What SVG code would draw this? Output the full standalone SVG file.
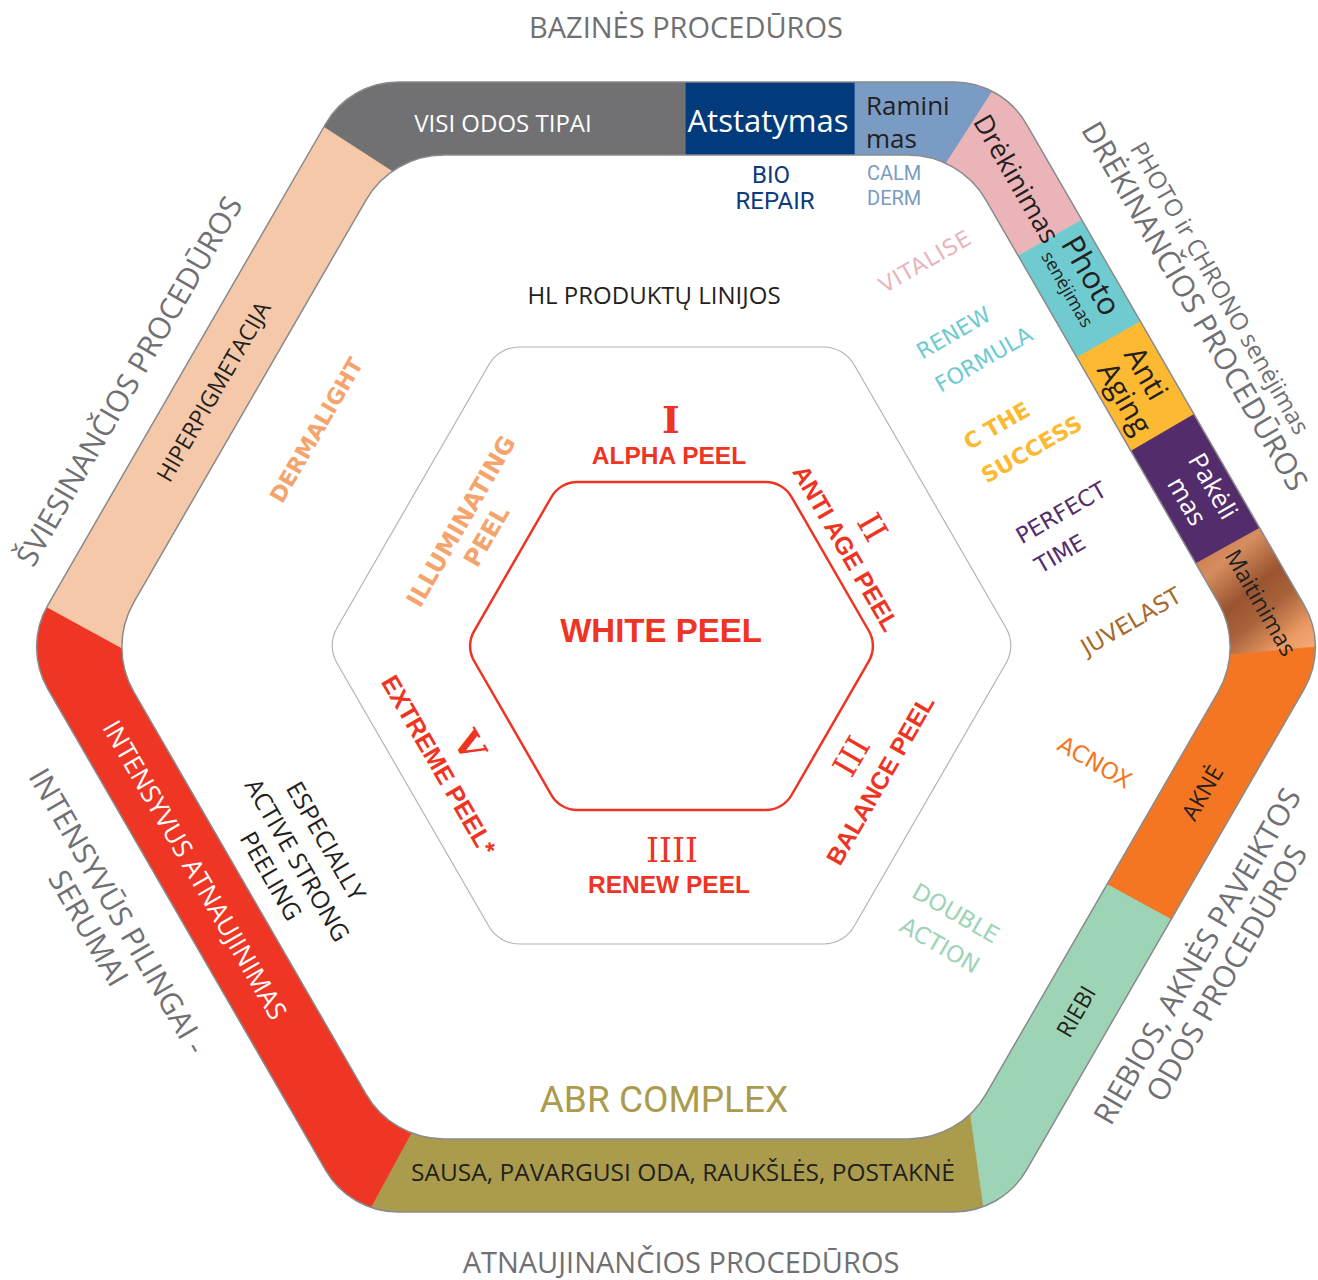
<svg xmlns="http://www.w3.org/2000/svg" width="1318" height="1280" viewBox="0 0 1318 1280">
<style>
.os{font-family:"Open Sans","Noto Sans",sans-serif}
.dv{font-family:"DejaVu Sans",sans-serif}
.lb{font-family:"Liberation Sans",Arial,sans-serif;font-weight:bold}
.rb{font-family:Roboto,"Liberation Sans",sans-serif}
.sr{font-family:"DejaVu Serif","Liberation Serif",serif}
.m{text-anchor:middle}
.gr{fill:#707073}
.dk{fill:#231f20}
.wh{fill:#ffffff}
.rd{fill:#ee3524}
.seg{stroke-width:0.8}
</style>
<defs>
<clipPath id="ringClip">
<path clip-rule="evenodd" fill-rule="evenodd" d="M398.3,82 L953.7,82 A84,84 0 0 1 1026.45,124 L1304.15,605 A84,84 0 0 1 1304.15,689 L1026.45,1170 A84,84 0 0 1 953.7,1212 L398.3,1212 A84,84 0 0 1 325.55,1170 L47.85,689 A84,84 0 0 1 47.85,605 L325.55,124 A84,84 0 0 1 398.3,82 Z M444,155 L908,155 A90,90 0 0 1 986,200 L1218.1,602 A90,90 0 0 1 1218.1,692 L986,1094 A90,90 0 0 1 908,1139 L444,1139 A90,90 0 0 1 366,1094 L133.9,692 A90,90 0 0 1 133.9,602 L366,200 A90,90 0 0 1 444,155 Z"/>
</clipPath>
<linearGradient id="copper" gradientUnits="userSpaceOnUse" x1="1195" y1="545" x2="1295" y2="665">
<stop offset="0" stop-color="#c9794a"/>
<stop offset="0.2" stop-color="#d68d5f"/>
<stop offset="0.45" stop-color="#9a5430"/>
<stop offset="0.62" stop-color="#a8633b"/>
<stop offset="0.85" stop-color="#eb9a63"/>
<stop offset="1" stop-color="#f5ab78"/>
</linearGradient>
</defs>
<rect width="1318" height="1280" fill="#ffffff"/>

<g id="ring" clip-path="url(#ringClip)">
<g id="seg-visi"><polygon class="seg" fill="#717073" stroke="#717073" points="676,647 427,194 257,84 252,-88 686,10 686,190"/></g>
<g id="seg-atstatymas"><polygon class="seg" fill="#023b7c" stroke="#023b7c" points="676,647 686,190 686,10 855,10 855,190"/></g>
<g id="seg-raminimas"><polygon class="seg" fill="#7a9bc3" stroke="#7a9bc3" points="676,647 855,190 855,10 1037,22 924.5,197"/></g>
<g id="seg-drekinimas"><polygon class="seg" fill="#ebb4b9" stroke="#ebb4b9" points="676,647 924.5,197 1037,22 1100,-88 1144,185 989,272.5"/></g>
<g id="seg-photo"><polygon class="seg" fill="#6fcbd0" stroke="#6fcbd0" points="676,647 989,272.5 1144,185 1202,287 1047,374.5"/></g>
<g id="seg-antiaging"><polygon class="seg" fill="#fdb931" stroke="#fdb931" points="676,647 1047,374.5 1202,287 1253,380 1103,467.5"/></g>
<g id="seg-pakelimas"><polygon class="seg" fill="#532c6c" stroke="#532c6c" points="676,647 1103,467.5 1253,380 1323,493 1165.5,580.5"/></g>
<g id="seg-maitinimas"><polygon class="seg" fill="url(#copper)" stroke="url(#copper)" points="676,647 1165.5,580.5 1323,493 1524,647 1400,639 1187.5,659"/></g>
<g id="seg-akne"><polygon class="seg" fill="#f47622" stroke="#f47622" points="676,647 1187.5,659 1400,639 1236,955 1076,867.5"/></g>
<g id="seg-riebi"><polygon class="seg" fill="#9dd4b5" stroke="#9dd4b5" points="676,647 1076,867.5 1236,955 1100,1382 996,1300 963.5,1070"/></g>
<g id="seg-sausa"><polygon class="seg" fill="#aa9c4c" stroke="#aa9c4c" points="676,647 963.5,1070 996,1300 334,1275 429,1100"/></g>
<g id="seg-intensyvus"><polygon class="seg" fill="#ef3524" stroke="#ef3524" points="676,647 429,1100 334,1275 252,1382 -28,566 159.5,668.5"/></g>
<g id="seg-hiperpigmentacija"><polygon class="seg" fill="#f4c8a8" stroke="#f4c8a8" points="676,647 159.5,668.5 -28,566 257,84 427,194"/></g>
</g>
<path id="ring-outline" fill="none" stroke="#8a8a8c" stroke-width="1.5" d="M398.3,82 L953.7,82 A84,84 0 0 1 1026.45,124 L1304.15,605 A84,84 0 0 1 1304.15,689 L1026.45,1170 A84,84 0 0 1 953.7,1212 L398.3,1212 A84,84 0 0 1 325.55,1170 L47.85,689 A84,84 0 0 1 47.85,605 L325.55,124 A84,84 0 0 1 398.3,82 Z M444,155 L908,155 A90,90 0 0 1 986,200 L1218.1,602 A90,90 0 0 1 1218.1,692 L986,1094 A90,90 0 0 1 908,1139 L444,1139 A90,90 0 0 1 366,1094 L133.9,692 A90,90 0 0 1 133.9,602 L366,200 A90,90 0 0 1 444,155 Z"/>

<g id="band-labels" class="os">
<text class="m wh" font-size="24" x="503" y="131.6">VISI ODOS TIPAI</text>
<text class="m wh" font-size="31" x="768" y="132">Atstatymas</text>
<text class="dk" font-size="26" x="866" y="115">Ramini</text>
<text class="dk" font-size="26" x="866" y="148">mas</text>
<text class="m dk" font-size="27" transform="translate(1016,179) rotate(60)" y="9">Drėkinimas</text>
<text class="m dk" font-size="31" transform="translate(1076.6,283.9) rotate(60)" y="-6">Photo</text>
<text class="m dk" font-size="18" transform="translate(1076.6,283.9) rotate(60)" y="17">senėjimas</text>
<text class="dk" font-size="30" transform="translate(1118.8,357) rotate(60)" y="-5">Anti</text>
<text class="dk" font-size="30" transform="translate(1118.8,357) rotate(60)" y="26">Aging</text>
<text class="m wh" font-size="26" transform="translate(1198.3,494.6) rotate(60)" y="-8">Pakėli</text>
<text class="m wh" font-size="26" transform="translate(1198.3,494.6) rotate(60)" y="22">mas</text>
<text class="m dk" font-size="23" transform="translate(1260.7,602.7) rotate(60)" y="8">Maitinimas</text>
<text class="m dk" font-size="23" transform="translate(1202.2,792.6) rotate(-60)" y="8.3">AKNĖ</text>
<text class="m dk" font-size="23" transform="translate(1075.9,1011.4) rotate(-60)" y="8.3">RIEBI</text>
<text class="m dk" font-size="24.5" x="683" y="1181">SAUSA, PAVARGUSI ODA, RAUKŠLĖS, POSTAKNĖ</text>
<text class="m wh" font-size="26" transform="translate(194.6,870) rotate(60)" y="9">INTENSYVUS ATNAUJINIMAS</text>
<text class="m dk" font-size="23" transform="translate(213.4,391.4) rotate(-60)" y="8.3">HIPERPIGMETACIJA</text>
</g>

<g id="outer-labels" class="os gr">
<text class="m" font-size="29" x="686" y="38">BAZINĖS PROCEDŪROS</text>
<text class="m" font-size="29" x="681" y="1273">ATNAUJINANČIOS PROCEDŪROS</text>
<text class="m" font-size="30" transform="translate(129,381) rotate(-60)" y="10.8">ŠVIESINANČIOS PROCEDŪROS</text>
<text class="m" font-size="30" transform="translate(1195,306) rotate(60)" y="10.8">DRĖKINANČIOS PROCEDŪROS</text>
<text class="m" font-size="24" transform="translate(1220,288) rotate(60)" y="8.6">PHOTO ir CHRONO senėjimas</text>
<text class="m" font-size="30" transform="translate(118,911) rotate(60)" y="10.8">INTENSYVŪS PILINGAI -</text>
<text class="m" font-size="30" transform="translate(88.6,928) rotate(60)" y="10.8">SERUMAI</text>
<text class="m" font-size="30" transform="translate(1197,956) rotate(-60)" y="10.8">RIEBIOS, AKNĖS PAVEIKTOS</text>
<text class="m" font-size="30" transform="translate(1226.4,973) rotate(-60)" y="10.8">ODOS PROCEDŪROS</text>
</g>

<g id="product-lines">
<text class="rb m" font-size="24" fill="#0c3b7c" x="771" y="183">BIO</text>
<text class="rb m" font-size="24" fill="#0c3b7c" x="775" y="209">REPAIR</text>
<text class="rb" font-size="20" fill="#7a9bc3" x="867" y="180">CALM</text>
<text class="rb" font-size="20" fill="#7a9bc3" x="867" y="205">DERM</text>
<text class="os m dk" font-size="24" x="654" y="304">HL PRODUKTŲ LINIJOS</text>
<text class="dv m" font-size="22" font-weight="bold" fill="#f4a46c" transform="translate(316,430) rotate(-60)" y="8">DERMALIGHT</text>
<text class="dv m" font-size="22" fill="#ebb4b9" letter-spacing="1" transform="translate(925,261) rotate(-30)" y="8">VITALISE</text>
<text class="dv m" font-size="22" fill="#6fcbd0" transform="translate(953.5,332.5) rotate(-30)" y="8">RENEW</text>
<text class="dv m" font-size="22" fill="#6fcbd0" transform="translate(983.5,359) rotate(-30)" y="8">FORMULA</text>
<text class="dv m" font-size="22" font-weight="bold" fill="#fdb931" transform="translate(996.5,425.5) rotate(-30)" y="8">C THE</text>
<text class="dv m" font-size="22" font-weight="bold" fill="#fdb931" transform="translate(1031.5,449) rotate(-30)" y="8">SUCCESS</text>
<text class="dv m" font-size="22.5" fill="#532c6c" transform="translate(1061,512.5) rotate(-30)" y="8">PERFECT</text>
<text class="dv m" font-size="22.5" fill="#532c6c" transform="translate(1060,553.5) rotate(-30)" y="8">TIME</text>
<text class="dv m" font-size="23" fill="#a86a2c" transform="translate(1131,621) rotate(-30)" y="8.3">JUVELAST</text>
<text class="dv m" font-size="23" fill="#f47622" transform="translate(1095,762) rotate(30)" y="8.3">ACNOX</text>
<text class="dv m" font-size="23" fill="#9dd4b5" transform="translate(956,913) rotate(30)" y="8.3">DOUBLE</text>
<text class="dv m" font-size="23" fill="#9dd4b5" transform="translate(940,945) rotate(30)" y="8.3">ACTION</text>
<text class="rb m" font-size="37" fill="#aa9c4c" x="664" y="1112">ABR COMPLEX</text>
<text class="os m dk" font-size="24.5" transform="translate(326,841) rotate(60)" y="8.8">ESPECIALLY</text>
<text class="os m dk" font-size="24.5" transform="translate(297.5,860) rotate(60)" y="8.8">ACTIVE STRONG</text>
<text class="os m dk" font-size="24.5" transform="translate(271,876) rotate(60)" y="8.8">PEELING</text>
</g>

<g id="peel-frame">
<path fill="none" stroke="#b4b4b4" stroke-width="1.2" d="M519.3,347 L823.7,347 A35,35 0 0 1 854,364.5 L1006.1,628 A35,35 0 0 1 1006.1,663 L854,926.5 A35,35 0 0 1 823.7,944 L519.3,944 A35,35 0 0 1 489,926.5 L336.9,663 A35,35 0 0 1 336.9,628 L489,364.5 A35,35 0 0 1 519.3,347 Z"/>
</g>

<g id="white-peel">
<path fill="none" stroke="#ee3524" stroke-width="2.5" d="M577.4,482 L765.6,482 A30,30 0 0 1 791.6,497 L868.9,631 A30,30 0 0 1 868.9,661 L791.6,795 A30,30 0 0 1 765.6,810 L577.4,810 A30,30 0 0 1 551.4,795 L474.1,661 A30,30 0 0 1 474.1,631 L551.4,497 A30,30 0 0 1 577.4,482 Z"/>
<text class="lb m rd" font-size="33" x="661" y="642">WHITE PEEL</text>
</g>

<g id="peel-1">
<text class="sr m rd" font-size="38" font-weight="bold" x="671" y="433">I</text>
<text class="lb m rd" font-size="24.5" x="669" y="464">ALPHA PEEL</text>
</g>
<g id="peel-2">
<text class="sr m rd" font-size="33" transform="translate(873,527) rotate(60)" y="12">II</text>
<text class="lb m rd" font-size="24.5" transform="translate(846,548) rotate(60)" y="8.8">ANTI AGE PEEL</text>
</g>
<g id="peel-3">
<text class="sr m rd" font-size="33" transform="translate(851,756) rotate(-60)" y="12">III</text>
<text class="lb m rd" font-size="24.5" transform="translate(880,780) rotate(-60)" y="8.8">BALANCE PEEL</text>
</g>
<g id="peel-4">
<text class="sr m rd" font-size="33" x="672" y="862">IIII</text>
<text class="lb m rd" font-size="24.5" x="669" y="893">RENEW PEEL</text>
</g>
<g id="peel-5">
<text class="sr m rd" font-size="36" font-weight="bold" transform="translate(470,745) rotate(60)" y="13">V</text>
<text class="lb m rd" font-size="25" transform="translate(439,765) rotate(60)" y="9">EXTREME PEEL*</text>
</g>
<g id="peel-illuminating">
<text class="dv m" font-size="24" font-weight="bold" fill="#f4a46c" transform="translate(460.5,521) rotate(-60)" y="8.8">ILLUMINATING</text>
<text class="dv m" font-size="24" font-weight="bold" fill="#f4a46c" transform="translate(486,536) rotate(-60)" y="8.8">PEEL</text>
</g>
<g id="connectors"/>
</svg>
